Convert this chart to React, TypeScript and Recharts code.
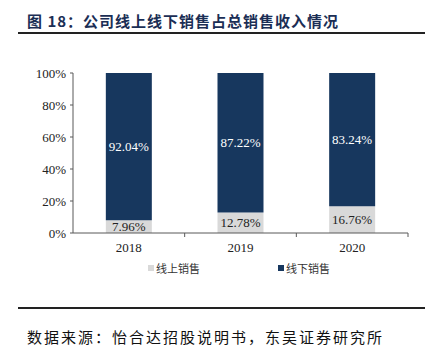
import React from 'react';
import { BarChart, Bar, XAxis, YAxis, LabelList } from 'recharts';

const years = ['2018', '2019', '2020'];
const onlineShare = [7.96, 12.78, 16.76];
const offlineShare = [92.04, 87.22, 83.24];
const seriesNames = ['线上销售', '线下销售'];
const seriesColors = ['#D9D9D9', '#17375E'];
const yTicks = [0, 20, 40, 60, 80, 100];
const titleText = '图 18：公司线上线下销售占总销售收入情况';
const sourceText = '数据来源：怡合达招股说明书，东吴证券研究所';

const data = years.map((y, i) => ({ year: y, online: onlineShare[i], offline: offlineShare[i] }));

const serif = '"Liberation Serif", "Times New Roman", serif';
const cjk = '"Noto Sans CJK SC", sans-serif';
const TICK_MARGIN = 10;

const CategoryTick = (props: any) => {
  const { x, y, payload, width, visibleTicksCount } = props;
  const band = width / visibleTicksCount;
  const axisY = y - TICK_MARGIN;
  return (
    <g>
      <line x1={x + band / 2} x2={x + band / 2} y1={axisY} y2={axisY + 4} stroke="#595959" />
      <text x={x} y={y} dy="0.71em" textAnchor="middle" fontFamily={serif} fontSize={13} fill="#222">
        {payload.value}
      </text>
    </g>
  );
};

export default function App() {
  return (
    <div style={{ position: 'absolute', left: 0, top: 0, width: 430, height: 356, background: '#fff', overflow: 'hidden' }}>
      <div style={{ position: 'absolute', left: 27, top: 13, fontFamily: cjk, fontWeight: 700, fontSize: 15, lineHeight: '16px', letterSpacing: 1, color: '#1B2E55', whiteSpace: 'nowrap' }}>
        {titleText}
      </div>
      <div style={{ position: 'absolute', left: 18, top: 32, width: 407, height: 2, background: '#222' }} />
      <BarChart
        width={430}
        height={300}
        data={data}
        margin={{ top: 73, right: 22, left: 13, bottom: 37 }}
        barCategoryGap="29.4%"
        style={{ position: 'absolute', left: 0, top: 0 }}
      >
        <XAxis
          dataKey="year"
          height={30}
          tickLine={false}
          tickSize={0}
          tickMargin={TICK_MARGIN}
          axisLine={{ stroke: '#595959' }}
          tick={<CategoryTick />}
        />
        <YAxis
          width={60}
          domain={[0, 100]}
          ticks={yTicks}
          tickFormatter={(v: number) => `${v}%`}
          tick={{ fontFamily: serif, fontSize: 13, fill: '#222' }}
          tickSize={3}
          tickMargin={4}
          axisLine={{ stroke: '#595959' }}
          tickLine={{ stroke: '#595959' }}
        />
        <Bar dataKey="online" stackId="a" fill={seriesColors[0]} name={seriesNames[0]} isAnimationActive={false}>
          <LabelList dataKey="online" position="center" formatter={(v: number) => `${v.toFixed(2)}%`} style={{ fontFamily: serif, fontSize: 13, fill: '#222' }} />
        </Bar>
        <Bar dataKey="offline" stackId="a" fill={seriesColors[1]} name={seriesNames[1]} isAnimationActive={false}>
          <LabelList dataKey="offline" position="center" formatter={(v: number) => `${v.toFixed(2)}%`} style={{ fontFamily: serif, fontSize: 13, fill: '#fff' }} />
        </Bar>
      </BarChart>
      {seriesNames.map((name, i) => (
        <div key={name} style={{ position: 'absolute', left: i === 0 ? 148 : 278, top: 261, height: 14, display: 'flex', alignItems: 'center', fontFamily: cjk, fontSize: 11, color: '#333', whiteSpace: 'nowrap' }}>
          <span style={{ display: 'inline-block', width: 6, height: 6, background: seriesColors[i], marginRight: 2 }} />
          {name}
        </div>
      ))}
      <div style={{ position: 'absolute', left: 18, top: 307, width: 407, height: 2, background: '#222' }} />
      <div style={{ position: 'absolute', left: 27, top: 329, fontFamily: cjk, fontSize: 15, lineHeight: '16px', letterSpacing: 2, color: '#111', whiteSpace: 'nowrap' }}>
        {sourceText}
      </div>
    </div>
  );
}
